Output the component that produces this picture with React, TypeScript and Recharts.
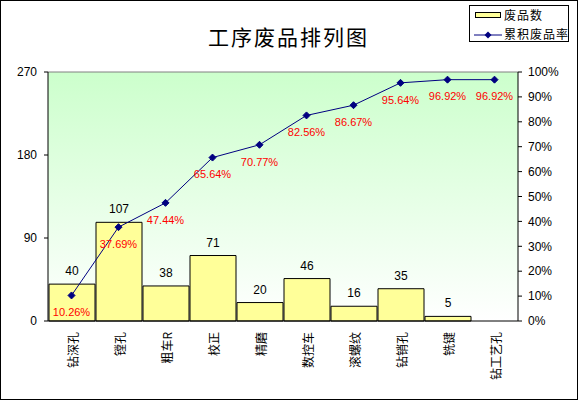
import React from 'react';
import { ComposedChart, Bar, Line, XAxis, YAxis, CartesianGrid, LabelList, ReferenceLine } from 'recharts';

const categories = ['钻深孔', '镗孔', '粗车R', '校正', '精磨', '数控车', '滚螺纹', '钻销孔', '铣键', '钻工艺孔'];
const counts = [40, 107, 38, 71, 20, 46, 16, 35, 5, 0];
const cumPct = [10.26, 37.69, 47.44, 65.64, 70.77, 82.56, 86.67, 95.64, 96.92, 96.92];
const leftTicks = [0, 90, 180, 270];
const rightTicks = [0, 0.1, 0.2, 0.3, 0.4, 0.5, 0.6, 0.7, 0.8, 0.9, 1];
const seriesNames = ['废品数', '累积废品率'];

const data = categories.map((name, i) => ({ name, count: counts[i], cum: cumPct[i] / 100, pct: cumPct[i] }));

const FONT = "'Liberation Sans', Arial, 'Noto Sans CJK SC', sans-serif";
const CJK = "'Noto Sans CJK SC', 'Liberation Sans', sans-serif";

const RotatedTick = (props: any) => {
  const { x, y, payload } = props;
  const ty = y + 3;
  const tx = x + 1;
  return (
    <text x={tx} y={ty} transform={`rotate(-90 ${tx} ${ty})`} textAnchor="end" dominantBaseline="central"
      fontSize={12} fontFamily={CJK} fill="#000">
      {payload.value}
    </text>
  );
};

const Diamond = (props: any) => {
  const { cx, cy } = props;
  if (cx == null || cy == null) return null;
  const s = 3.5;
  return <path d={`M${cx},${cy - s}L${cx + s},${cy}L${cx},${cy + s}L${cx - s},${cy}Z`} fill="#000080" stroke="#000080" />;
};

const LegendBox = () => (
  <div style={{ position: 'absolute', left: 469, top: 5, border: '1px solid #000', background: '#fff', width: 100, height: 37, boxSizing: 'border-box', fontFamily: CJK, fontSize: 12, letterSpacing: 1, color: '#000', whiteSpace: 'nowrap' }}>
    <div style={{ position: 'absolute', left: 5, top: 6, width: 26, height: 6, background: '#ffff99', border: '1px solid #000', boxSizing: 'border-box' }} />
    <div style={{ position: 'absolute', left: 34, top: 1, lineHeight: '16px' }}>{seriesNames[0]}</div>
    <svg style={{ position: 'absolute', left: 4, top: 25 }} width={28} height={8}>
      <line x1={0} y1={4} x2={28} y2={4} stroke="#000080" />
      <path d="M14,0.5L17.5,4L14,7.5L10.5,4Z" fill="#000080" />
    </svg>
    <div style={{ position: 'absolute', left: 34, top: 20, lineHeight: '16px' }}>{seriesNames[1]}</div>
  </div>
);

export default function App() {
  return (
    <div style={{ position: 'absolute', left: 0, top: 0, width: 579, height: 401, background: '#fff' }}>
      <ComposedChart width={579} height={401} data={data} margin={{ top: 72, right: 0, bottom: 0, left: 0 }}>
        <defs>
          <linearGradient id="bgGrad" x1="0" y1="0" x2="0" y2="1">
            <stop offset="0%" stopColor="#ccffcc" />
            <stop offset="100%" stopColor="#ffffff" />
          </linearGradient>
        </defs>
        <CartesianGrid yAxisId="left" horizontal={false} vertical={false} fill="url(#bgGrad)" fillOpacity={1} />
        <XAxis dataKey="name" height={80} tickLine={false} axisLine={{ stroke: '#000' }} interval={0} tick={<RotatedTick />} />
        <YAxis yAxisId="left" orientation="left" width={48} domain={[0, 270]} ticks={leftTicks} interval={0}
          axisLine={{ stroke: '#000' }} tickLine={{ stroke: '#000' }} tickSize={4} tickMargin={7}
          tick={{ fill: '#000', fontSize: 12, fontFamily: FONT }} />
        <YAxis yAxisId="right" orientation="right" width={61} domain={[0, 1]} ticks={rightTicks} interval={0}
          axisLine={{ stroke: '#000' }} tickLine={{ stroke: '#000' }} tickSize={4} tickMargin={6}
          tickFormatter={(v: number) => `${Math.round(v * 100)}%`}
          tick={{ fill: '#000', fontSize: 12, fontFamily: FONT, textAnchor: 'start' }} />
        <ReferenceLine yAxisId="left" y={270} stroke="#808080" />
        <Bar yAxisId="left" dataKey="count" name={seriesNames[0]} barSize={46} fill="#ffff99" stroke="#000" strokeWidth={1} isAnimationActive={false}>
          <LabelList dataKey="count" position="top" offset={9} fill="#000" fontSize={12} fontFamily={FONT} />
        </Bar>
        <Line yAxisId="right" dataKey="cum" name={seriesNames[1]} stroke="#000080" strokeWidth={1} dot={<Diamond />} activeDot={false} isAnimationActive={false}>
          <LabelList dataKey="pct" position="bottom" offset={13} fill="#ff0000" fontSize={11} fontFamily={FONT}
            formatter={(v: any) => `${Number(v).toFixed(2)}%`} />
        </Line>
      </ComposedChart>
      <div style={{ position: 'absolute', left: 0, top: 24, width: 577, textAlign: 'center', fontFamily: CJK, fontSize: 21, letterSpacing: 2, lineHeight: '24px', color: '#000' }}>
        工序废品排列图
      </div>
      <LegendBox />
      <div style={{ position: 'absolute', left: 0, top: 0, width: 578, height: 400, border: '1px solid #000', boxSizing: 'border-box', pointerEvents: 'none' }} />
    </div>
  );
}
